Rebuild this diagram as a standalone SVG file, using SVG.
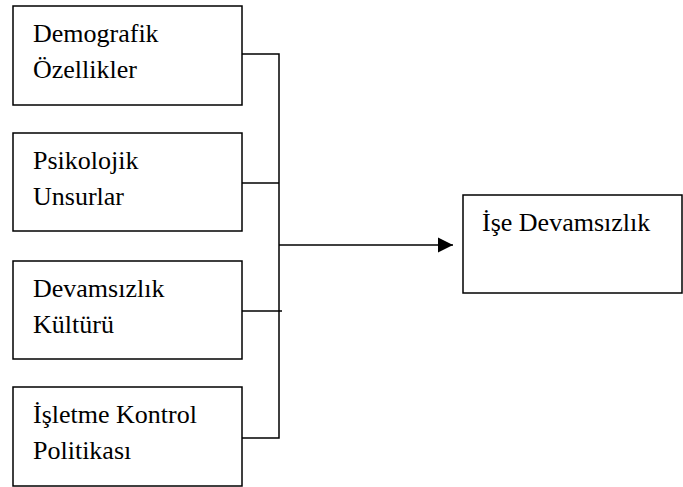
<svg xmlns="http://www.w3.org/2000/svg" width="683" height="487" viewBox="0 0 683 487">
<style>
.box{fill:#fff;stroke:#000;stroke-width:1.5}
.t{font-family:"Liberation Serif","Times New Roman",serif;font-size:26px;fill:#000}
.c{fill:none;stroke:#000;stroke-width:1.5}
</style>
<defs>
<marker id="ah" markerUnits="userSpaceOnUse" markerWidth="16" markerHeight="16" refX="15" refY="8" orient="auto">
<path d="M0,0.5 L15,8 L0,15.5 Z" fill="#000"/>
</marker>
</defs>
<rect width="683" height="487" fill="#fff"/>
<g id="connectors">
<path class="c" d="M242,54 H279 V438 H242"/>
<path class="c" d="M242,183 H279"/>
<path class="c" d="M242,311 H282"/>
<path class="c" d="M279,245 H453" stroke-width="2.2" marker-end="url(#ah)"/>
</g>
<g id="n1"><rect class="box" x="13" y="6" width="229" height="99"/><text class="t" x="33" y="42">Demografik</text><text class="t" x="33" y="78">Özellikler</text></g>
<g id="n2"><rect class="box" x="13" y="133" width="229" height="98"/><text class="t" x="33" y="169">Psikolojik</text><text class="t" x="33" y="205">Unsurlar</text></g>
<g id="n3"><rect class="box" x="13" y="261" width="229" height="98"/><text class="t" x="33" y="297">Devamsızlık</text><text class="t" x="33" y="333">Kültürü</text></g>
<g id="n4"><rect class="box" x="13" y="387" width="229" height="99"/><text class="t" x="33" y="423">İşletme Kontrol</text><text class="t" x="33" y="459">Politikası</text></g>
<g id="n5"><rect class="box" x="463" y="195" width="219" height="98"/><text class="t" x="482" y="231">İşe Devamsızlık</text></g>
</svg>
